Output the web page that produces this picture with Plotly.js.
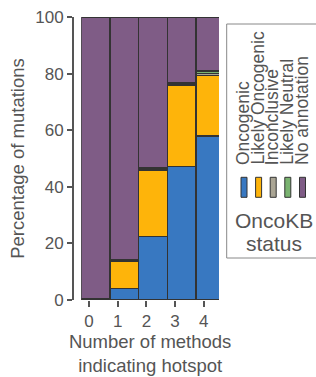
<!DOCTYPE html>
<html><head><meta charset="utf-8">
<script src="https://cdn.plot.ly/plotly-3.0.1.min.js"></script>
<style>html,body{margin:0;padding:0;background:#fff;}#chart{width:316px;height:377px;}</style>
</head><body><div id="chart"></div>
<script>
// ---- data ----
const categories = ['0', '1', '2', '3', '4'];
const statusNames = ['Oncogenic', 'Likely Oncogenic', 'Inconclusive', 'Likely Neutral', 'No annotation'];
const oncogenic       = [0.1, 4.1, 22.4, 47.1, 58.0];
const likelyOncogenic = [0.3, 9.7, 23.5, 28.9, 21.3];
const inconclusive    = [0.1, 0.3, 0.6, 0.6, 0.7];
const likelyNeutral   = [0.0, 0.3, 0.1, 0.1, 0.9];
const noAnnotation    = [99.5, 85.6, 53.4, 23.3, 19.1];
const yTickVals = [0, 20, 40, 60, 80, 100];
const legendTitleLines = ['OncoKB', 'status'];

// ---- style ----
const colors = ['#3878c1', '#feb40a', '#aaa594', '#7ab370', '#7f5c86'];
const textColor = '#555555';
const fontFamily = '"Liberation Sans", Arial, sans-serif';
const W = 316, H = 377;
const M = {l: 73, r: 97, t: 17, b: 77};
const plotW = W - M.l - M.r, plotH = H - M.t - M.b;
const px = x => (x - M.l) / plotW;
const py = y => (H - M.b - y) / plotH;
const tickOffset = -0.232;

const series = [oncogenic, likelyOncogenic, inconclusive, likelyNeutral, noAnnotation];
const xIdx = categories.map((c, i) => i);

const traces = series.map((vals, k) => ({
  type: 'bar',
  name: statusNames[k],
  x: xIdx,
  y: vals,
  width: 1,
  marker: {color: colors[k], line: {color: '#333333', width: 1.5}},
  hoverinfo: 'skip'
}));

// legend box
const shapes = [{
  type: 'rect', xref: 'paper', yref: 'paper',
  x0: px(226.7), x1: px(330), y0: py(258), y1: py(24),
  line: {color: '#888888', width: 1}, fillcolor: 'rgba(0,0,0,0)', layer: 'above'
}];
const legendX = [244, 258.6, 273.2, 287.8, 302.5];
statusNames.forEach((n, k) => {
  shapes.push({
    type: 'rect', xref: 'paper', yref: 'paper',
    x0: px(legendX[k] - 3), x1: px(legendX[k] + 3), y0: py(197.3), y1: py(177.3),
    fillcolor: colors[k], line: {color: '#333333', width: 1}, layer: 'above'
  });
});
const annotations = statusNames.map((n, k) => ({
  xref: 'paper', yref: 'paper', x: px(legendX[k] - 1), y: py(167),
  xanchor: 'center', yanchor: 'bottom', textangle: -90, showarrow: false,
  text: n, font: {family: fontFamily, size: 17.5, color: textColor}
}));
annotations.push({
  xref: 'paper', yref: 'paper', x: px(274), y: py(220), xanchor: 'center', yanchor: 'middle',
  showarrow: false, text: legendTitleLines[0], font: {family: fontFamily, size: 21, color: textColor}
});
annotations.push({
  xref: 'paper', yref: 'paper', x: px(274), y: py(243), xanchor: 'center', yanchor: 'middle',
  showarrow: false, text: legendTitleLines[1], font: {family: fontFamily, size: 21, color: textColor}
});

const layout = {
  width: W, height: H, margin: M,
  paper_bgcolor: '#ffffff', plot_bgcolor: '#ffffff',
  barmode: 'stack', bargap: 0, showlegend: false,
  font: {family: fontFamily, color: textColor},
  xaxis: {
    domain: [px(81.3), 1], range: [-0.5, 4.3], type: 'linear',
    tickvals: xIdx.map(i => i + tickOffset), ticktext: categories,
    ticks: 'outside', ticklen: 6, tickwidth: 2, tickcolor: textColor,
    showline: false, showgrid: false, zeroline: false, automargin: false,
    tickfont: {size: 17, color: textColor},
    title: {text: 'Number of methods<br>indicating hotspot', font: {size: 18.5, color: textColor}, standoff: 4}
  },
  yaxis: {
    anchor: 'free', position: 0, range: [0, 100],
    tickvals: yTickVals, ticks: 'outside', ticklen: 5, tickwidth: 2, tickcolor: textColor,
    showline: true, linecolor: textColor, linewidth: 2,
    showgrid: false, zeroline: false, automargin: false,
    tickfont: {size: 17, color: textColor},
    title: {text: 'Percentage of mutations', font: {size: 18.5, color: textColor}, standoff: 5}
  },
  shapes: shapes,
  annotations: annotations
};

Plotly.newPlot('chart', traces, layout, {staticPlot: true, displayModeBar: false});
</script>
</body></html>
